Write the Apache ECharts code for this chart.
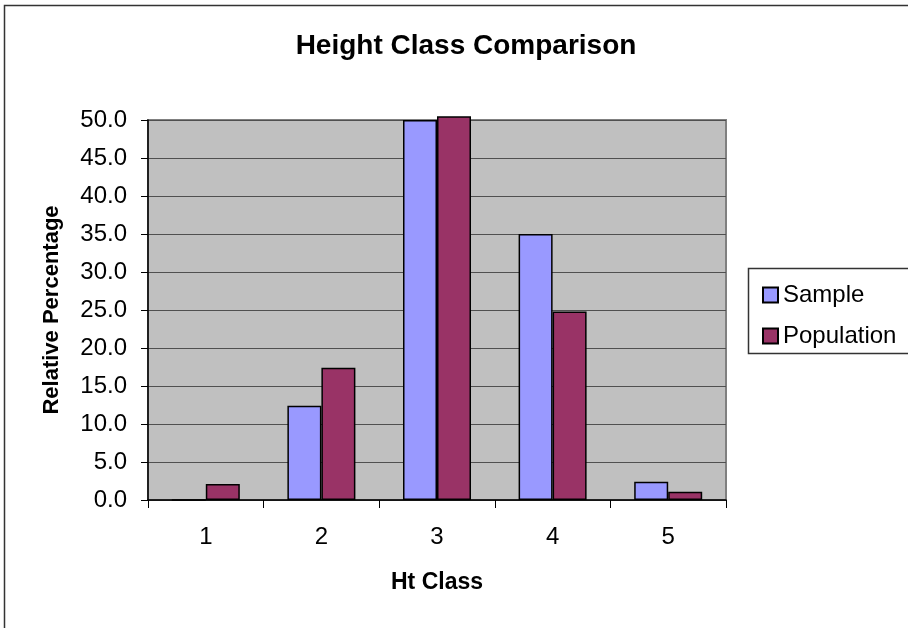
<!DOCTYPE html>
<html>
<head>
<meta charset="utf-8">
<script src="https://cdn.jsdelivr.net/npm/echarts@6/dist/echarts.min.js"></script>
<style>html,body{margin:0;padding:0;background:#fff}#c{width:908px;height:628px}</style>
</head>
<body>
<div id="c"></div>
<script>
const categories = ['1', '2', '3', '4', '5'];
const sampleValues = [0, 12.4, 50.0, 35.0, 2.4];
const populationValues = [2.1, 17.4, 50.5, 24.8, 1.1];
const yTicks = { min: 0, max: 50, interval: 5 };

const FONT = '"Liberation Sans", Arial, sans-serif';
const chart = echarts.init(document.getElementById('c'), null, { renderer: 'canvas' });
chart.setOption({
  backgroundColor: '#fff',
  animation: false,
  title: {
    text: 'Height Class Comparison',
    left: 461, top: 27, textAlign: 'center',
    textStyle: { fontFamily: FONT, fontSize: 28, fontWeight: 'bold', color: '#000' }
  },
  graphic: [
    { type: 'rect', shape: { x: 4.5, y: 5.5, width: 940, height: 660 }, style: { fill: null, stroke: '#333', lineWidth: 1.5 }, z: 100 },
    { type: 'rect', shape: { x: 748.5, y: 268.5, width: 200, height: 85 }, style: { fill: null, stroke: '#333', lineWidth: 1.5 }, z: 100 }
  ],
  legend: {
    orient: 'vertical', left: 757, top: 278,
    itemWidth: 15, itemHeight: 15, itemGap: 17,
    icon: 'rect',
    textStyle: { fontFamily: FONT, fontSize: 24, color: '#000', padding: [0, 0, 0, 0] },
    data: ['Sample', 'Population']
  },
  grid: {
    left: 148, top: 120, width: 578, height: 380,
    show: true, backgroundColor: '#c0c0c0', borderColor: '#808080', borderWidth: 2
  },
  xAxis: {
    type: 'category', data: categories,
    name: 'Ht Class', nameLocation: 'middle', nameGap: 71,
    nameTextStyle: { fontFamily: FONT, fontSize: 23, fontWeight: 'bold', color: '#000' },
    axisLine: { lineStyle: { color: '#000', width: 1.5 } },
    axisTick: { show: true, length: 8, alignWithLabel: false, lineStyle: { color: '#000' } },
    axisLabel: { fontFamily: FONT, fontSize: 24, color: '#000', margin: 25 },
    splitLine: { show: false }
  },
  yAxis: {
    type: 'value', min: yTicks.min, max: yTicks.max, interval: yTicks.interval,
    name: 'Relative Percentage', nameLocation: 'middle', nameGap: 85,
    nameTextStyle: { fontFamily: FONT, fontSize: 22, fontWeight: 'bold', color: '#000' },
    axisLine: { show: true, lineStyle: { color: '#000', width: 1.5 } },
    axisTick: { show: true, length: 7, lineStyle: { color: '#000' } },
    axisLabel: { fontFamily: FONT, fontSize: 24, color: '#000', margin: 21, formatter: v => v.toFixed(1) },
    splitLine: { show: true, lineStyle: { color: '#505050', width: 1.2 } }
  },
  series: [
    { name: 'Sample', type: 'bar', data: sampleValues, barWidth: 34, barGap: '0%', clip: false,
      itemStyle: { color: '#9999ff', borderColor: '#000', borderWidth: 1.5 } },
    { name: 'Population', type: 'bar', data: populationValues, barWidth: 34, barGap: '0%', clip: false,
      itemStyle: { color: '#993366', borderColor: '#000', borderWidth: 1.5 } }
  ]
});
</script>
</body>
</html>
